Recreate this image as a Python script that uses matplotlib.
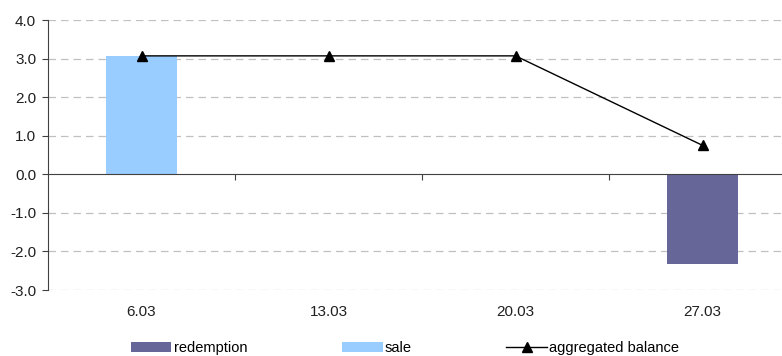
import numpy as np
import matplotlib
matplotlib.use("Agg")
import matplotlib.pyplot as plt
from matplotlib.patches import Patch
from matplotlib.lines import Line2D
from matplotlib.transforms import blended_transform_factory

plt.rcParams["font.family"] = ["Liberation Sans", "DejaVu Sans"]
plt.rcParams["font.size"] = 11

# data
dates = ["6.03", "13.03", "20.03", "27.03"]
redemption = [0.0, 0.0, 0.0, -2.32]
sale = [3.07, 0.0, 0.0, 0.0]
balance = [3.07, 3.07, 3.07, 0.75]
y_ticks = [-3.0, -2.0, -1.0, 0.0, 1.0, 2.0, 3.0, 4.0]

C_RED = "#666699"
C_SALE = "#99CCFF"

fig = plt.figure(figsize=(7.82, 3.56), dpi=100)
# plot area runs slightly past the right edge, as in the source
ax = fig.add_axes([48 / 782, 66 / 356, 748 / 782, 270 / 356])

x = np.arange(len(dates))
ax.bar(x, redemption, width=0.38, color=C_RED, zorder=2)
ax.bar(x, sale, width=0.38, color=C_SALE, zorder=2)
ax.plot(x, balance, color="black", linewidth=1.0, marker="^",
        markersize=6.5, zorder=4)

ax.set_xlim(-0.5, len(dates) - 0.5)
ax.set_ylim(-3, 4)
ax.set_yticks(y_ticks)
ax.set_yticklabels([f"{v:.1f}" for v in y_ticks])
for v in y_ticks:
    if v != 0:
        ax.axhline(v, color="#c0c0c0", linewidth=0.9, linestyle=(0, (6, 4)),
                   zorder=1)

for s in ["top", "right"]:
    ax.spines[s].set_visible(False)
ax.spines["left"].set_color("#404040")
ax.spines["bottom"].set_position(("data", 0))
ax.spines["bottom"].set_color("#404040")
ax.spines["bottom"].set_zorder(3)

ax.set_xticks(x[:-1] + 0.5)
ax.set_xticklabels([])
ax.tick_params(axis="x", direction="out", length=4, color="#404040")
ax.tick_params(axis="y", direction="out", length=4, color="#404040", pad=4.5,
               labelsize=11, labelcolor="#202020")

trans = blended_transform_factory(ax.transData, ax.transAxes)
for xi, lab in zip(x, dates):
    ax.text(xi, -0.08, lab, transform=trans, ha="center", va="center",
            fontsize=11, color="#202020")

handles = [
    Patch(facecolor=C_RED, edgecolor="none"),
    Patch(facecolor=C_SALE, edgecolor="none"),
    Line2D([], [], color="black", linewidth=1.0, marker="^", markersize=6.5),
]
fig.legend(handles, ["redemption", "sale", "aggregated balance"],
           loc="center", bbox_to_anchor=(405 / 782, 1 - 348 / 356), ncol=3,
           frameon=False, fontsize=10.5, handlelength=2.8, handleheight=0.62,
           handletextpad=0.14, columnspacing=6.5, borderpad=0.2)

fig.savefig("out.png", dpi=100)
